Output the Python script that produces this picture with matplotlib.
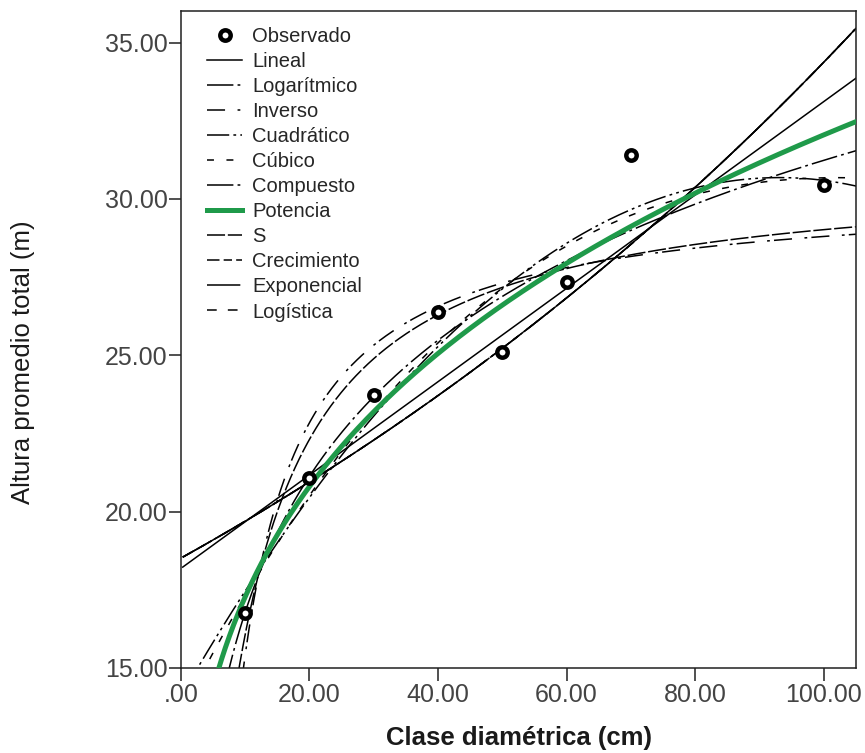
import numpy as np
import matplotlib
matplotlib.use("Agg")
import matplotlib.pyplot as plt
from matplotlib.ticker import FuncFormatter

# --- DATA ---
clase_cm = np.array([10, 20, 30, 40, 50, 60, 70, 100], dtype=float)
altura_m = np.array([16.75, 21.06, 23.73, 26.39, 25.09, 27.33, 31.40, 30.44])

model_names = ['Lineal', 'Logarítmico', 'Inverso', 'Cuadrático', 'Cúbico',
               'Compuesto', 'Potencia', 'S', 'Crecimiento', 'Exponencial', 'Logística']

# --- STYLE ---
plt.rcParams['font.family'] = ['Liberation Sans', 'DejaVu Sans']
plt.rcParams['lines.scale_dashes'] = False

GREEN = '#1f9a4a'
styles = {
    'Lineal':      dict(ls='-'),
    'Logarítmico': dict(ls=(0, (19, 3, 2, 3))),
    'Inverso':     dict(ls=(0, (13, 9, 2, 3))),
    'Cuadrático':  dict(ls=(0, (16, 3, 2, 3, 2, 3))),
    'Cúbico':      dict(ls=(0, (5, 9))),
    'Compuesto':   dict(ls=(0, (19, 3, 2, 3))),
    'Potencia':    dict(ls='-', color=GREEN, lw=3.6, zorder=4),
    'S':           dict(ls=(0, (13, 2))),
    'Crecimiento': dict(ls=(0, (9, 3, 6, 3))),
    'Exponencial': dict(ls=(0, (24, 2, 1.5, 2))),
    'Logística':   dict(ls=(0, (7, 8))),
}


def fitted_curve(name, xs):
    """Curve estimation models fitted to the observed points."""
    x, y = clase_cm, altura_m
    if name == 'Lineal':
        return np.polyval(np.polyfit(x, y, 1), xs)
    if name == 'Logarítmico':
        return np.polyval(np.polyfit(np.log(x), y, 1), np.log(xs))
    if name == 'Inverso':
        return np.polyval(np.polyfit(1 / x, y, 1), 1 / xs)
    if name == 'Cuadrático':
        return np.polyval(np.polyfit(x, y, 2), xs)
    if name == 'Cúbico':
        return np.polyval(np.polyfit(x, y, 3), xs)
    if name in ('Compuesto', 'Crecimiento', 'Exponencial', 'Logística'):
        return np.exp(np.polyval(np.polyfit(x, np.log(y), 1), xs))
    if name == 'Potencia':
        return np.exp(np.polyval(np.polyfit(np.log(x), np.log(y), 1), np.log(xs)))
    if name == 'S':
        return np.exp(np.polyval(np.polyfit(1 / x, np.log(y), 1), 1 / xs))


fig = plt.figure(figsize=(8.65, 7.53), dpi=100)
ax = fig.add_axes([0.209, 0.1129, 0.7806, 0.873])

xs = np.linspace(0.3, 106, 800)
handles = []
obs = ax.plot(clase_cm, altura_m, ls='none', marker='o', ms=7.5, mew=3.2,
              mfc='white', mec='black', zorder=5, label='Observado')[0]
handles.append(obs)
for name in model_names:
    st = dict(color='black', lw=1.1)
    st.update(styles[name])
    ls = st.pop('ls')
    line, = ax.plot(xs, fitted_curve(name, xs), linestyle=ls, label=name, **st)
    handles.append(line)

ax.set_xlim(0, 105)
ax.set_ylim(15, 36.02)
ax.set_xticks(np.arange(0, 101, 20))
ax.set_yticks(np.arange(15, 36, 5))


def spss_fmt(v, pos):
    s = f'{v:.2f}'
    return s[1:] if s.startswith('0.') else s


ax.xaxis.set_major_formatter(FuncFormatter(spss_fmt))
ax.yaxis.set_major_formatter(FuncFormatter(spss_fmt))
ax.tick_params(axis='both', labelsize=18, labelcolor='#444444', color='#202020',
               length=9, width=1.1)
ax.tick_params(axis='x', pad=2)
ax.tick_params(axis='y', pad=0.5)
ax.tick_params(top=False, right=False)
for sp in ax.spines.values():
    sp.set_color('#202020')
    sp.set_linewidth(1.1)

fig.text(519 / 865, 1 - 738 / 753, 'Clase diamétrica (cm)', ha='center', va='center',
         fontsize=18.5, fontweight='bold', color='#1a1a1a')
fig.text(23 / 865, 1 - 362 / 753, 'Altura promedio total (m)', ha='center', va='center',
         rotation=90, fontsize=18.5, color='#1a1a1a')

leg = ax.legend(handles=handles, loc='upper left', bbox_to_anchor=(0.039, 0.975),
                frameon=False, fontsize=14.5, handlelength=1.75, handletextpad=0.5,
                labelspacing=0.3, borderaxespad=0, borderpad=0)
for t in leg.get_texts():
    t.set_color('#262626')

fig.savefig('out.png', dpi=100)
